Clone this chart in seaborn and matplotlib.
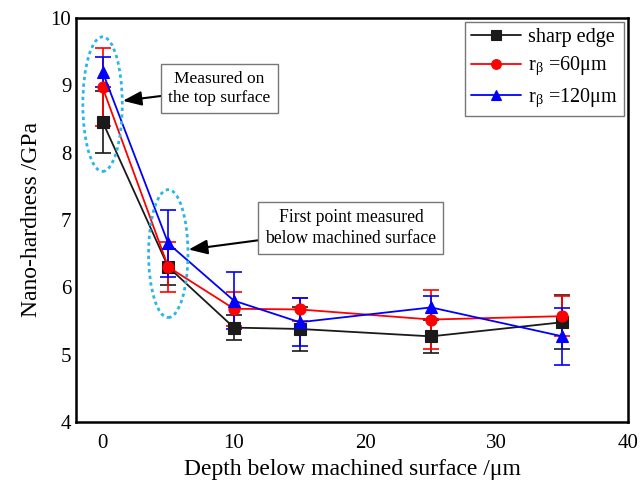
import matplotlib
matplotlib.use("Agg")
import matplotlib.pyplot as plt
import seaborn as sns
import pandas as pd
from matplotlib.patches import Ellipse
from matplotlib.ticker import MultipleLocator

depth = [0, 5, 10, 15, 25, 35]
sharp = [8.46, 6.30, 5.40, 5.38, 5.27, 5.48]
sharp_err = [0.46, 0.27, 0.18, 0.33, 0.25, 0.40]
r60 = [8.97, 6.30, 5.68, 5.67, 5.52, 5.57]
r60_err = [0.58, 0.37, 0.25, 0.17, 0.44, 0.30]
r120 = [9.20, 6.65, 5.80, 5.48, 5.70, 5.27]
r120_err = [0.22, 0.50, 0.42, 0.36, 0.17, 0.42]

labels = ["sharp edge", r"r$_\mathregular{β}$ =60μm", r"r$_\mathregular{β}$ =120μm"]
colors = ["#1a1a1a", "#ff0000", "#0000ff"]
markers = ["s", "o", "^"]

sns.set_style("white")
plt.rcParams["font.family"] = ["Liberation Serif", "DejaVu Serif"]
plt.rcParams["mathtext.fontset"] = "stix"
plt.rcParams["text.color"] = "black"
plt.rcParams["axes.labelcolor"] = "black"
plt.rcParams["xtick.color"] = "black"
plt.rcParams["ytick.color"] = "black"

df = pd.DataFrame({
    "depth": depth * 3,
    "hardness": sharp + r60 + r120,
    "series": [labels[0]] * 6 + [labels[1]] * 6 + [labels[2]] * 6,
})

fig = plt.figure(figsize=(6.41, 4.86), dpi=100)
ax = fig.add_axes([0.119, 0.132, 0.861, 0.831])

sns.lineplot(data=df, x="depth", y="hardness", hue="series", style="series",
             palette=colors, markers=markers, dashes=False, markersize=8,
             markeredgewidth=0.8, linewidth=1.3, ax=ax, legend=True)
for line, c in zip(ax.lines, colors):
    line.set_markeredgecolor(c)

for vals, errs, c in zip([sharp, r60, r120], [sharp_err, r60_err, r120_err], colors):
    ax.errorbar(depth, vals, yerr=errs, fmt="none", ecolor=c, elinewidth=1.2,
                capsize=6, capthick=1.2, zorder=1)

ax.set_xlim(-2, 40)
ax.set_ylim(4, 10)
ax.xaxis.set_major_locator(MultipleLocator(10))
ax.xaxis.set_minor_locator(MultipleLocator(5))
ax.yaxis.set_major_locator(MultipleLocator(1))
ax.yaxis.set_minor_locator(MultipleLocator(0.5))
ax.tick_params(which="both", direction="in", top=False, right=False,
               labelsize=15, width=1.2, colors="black")
ax.tick_params(which="major", length=6)
ax.tick_params(which="minor", length=3.5)
ax.tick_params(axis="x", pad=9)
for s in ax.spines.values():
    s.set_linewidth(1.8)
    s.set_color("black")

ax.set_xlabel("Depth below machined surface /μm", fontsize=17, labelpad=4)
ax.set_ylabel("Nano-hardness /GPa", fontsize=17, labelpad=6)

# dashed ellipses
for cx, cy, w, h in [(0, 8.72, 3.0, 2.0), (5, 6.5, 3.0, 1.9)]:
    ax.add_patch(Ellipse((cx, cy), w, h, fill=False, edgecolor="#29b6e8",
                         linestyle=(0, (1.2, 1.2)), linewidth=2.0, zorder=5))

bbox = dict(boxstyle="square,pad=0.4", fc="white", ec="#777777", lw=1.0)
ax.annotate("Measured on\nthe top surface", xy=(1.55, 8.77), xytext=(8.9, 8.95),
            fontsize=12.5, ha="center", va="center", bbox=bbox, linespacing=1.3,
            arrowprops=dict(arrowstyle="-|>,head_width=0.35,head_length=0.9",
                            color="black", lw=1.5, shrinkA=0, shrinkB=0))
ax.annotate("First point measured\nbelow machined surface", xy=(6.55, 6.56),
            xytext=(18.9, 6.88), fontsize=12.7, ha="center", va="center",
            bbox=bbox, linespacing=1.3,
            arrowprops=dict(arrowstyle="-|>,head_width=0.35,head_length=0.9",
                            color="black", lw=1.5, shrinkA=0, shrinkB=0))

leg = ax.legend(loc="upper right", fontsize=14.5, frameon=True, fancybox=False,
                edgecolor="#555555", borderpad=0.3, handlelength=2.5,
                labelspacing=0.4, handletextpad=0.35, borderaxespad=0.2)
leg.get_frame().set_linewidth(1.0)
for h, c in zip(leg.legend_handles, colors):
    h.set_markersize(7)
    h.set_markeredgecolor(c)

fig.savefig("out.png", dpi=100)
